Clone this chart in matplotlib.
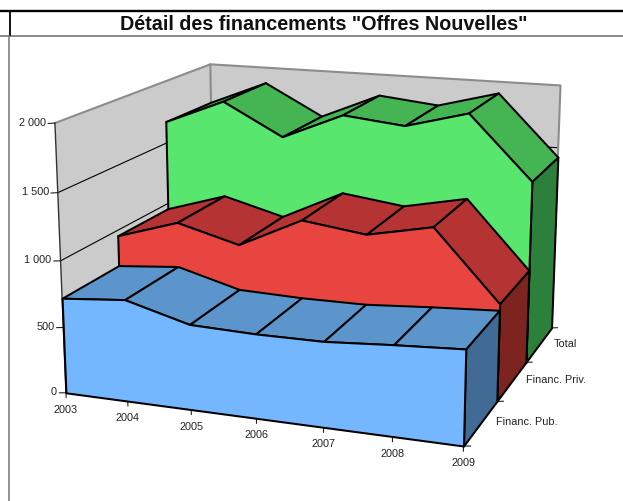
#-*- encoding: utf-8 -*-
import numpy as np
import matplotlib
matplotlib.use('Agg')
import matplotlib.pyplot as plt
from matplotlib.lines import Line2D
from mpl_toolkits.mplot3d import proj3d
from mpl_toolkits.mplot3d.art3d import Poly3DCollection

# donnees =====================================================================
years = ['2003', '2004', '2005', '2006', '2007', '2008', '2009']
series = ['Financ. Pub.', 'Financ. Priv.', 'Total']
pub = [721, 763, 634, 621, 624, 658, 686]
priv = [958, 1107, 981, 1214, 1152, 1253, 734]
total = [1676, 1873, 1623, 1830, 1780, 1910, 1424]
z_ticks = [0, 500, 1000, 1500, 2000]
z_labels = ['0', '500', '1 000', '1 500', '2 000']

# couleurs : face avant, dessus, cote
colors = [('#74B7FF', '#5B95CB', '#416A94'),
          ('#E84540', '#B53332', '#7E2420'),
          ('#58E66E', '#45B553', '#2D803B')]
wall_color = '#CBCBCB'
W, H = 623, 501
# =============================================================================

plt.rcParams['font.family'] = ['Liberation Sans', 'DejaVu Sans']

fig = plt.figure(figsize=(W / 100, H / 100), dpi=100)

# cadre de la page
def page_line(x0, y0, x1, y1, color, lw):
    fig.add_artist(Line2D([x0 / W, x1 / W], [1 - y0 / H, 1 - y1 / H], color=color, lw=lw,
                          solid_capstyle='butt'))

page_line(0, 11, W, 11, 'black', 1.7)
page_line(0, 35.5, W, 35.5, '#777777', 1.2)
page_line(10.2, 11, 10.2, 36, 'black', 1.3)
page_line(8.8, 35, 8.8, H, '#777777', 1.1)
fig.text(324 / W, 1 - 25 / H, 'Détail des financements "Offres Nouvelles"', fontsize=14.25, fontweight='bold',
         ha='center', va='center', color='#111111')

ax = fig.add_axes([25.79 / W, (H - 530.07) / H, 577.73 / W, 577.73 / H], projection='3d', computed_zorder=False)
ax.set_xlim(0, 6)
ax.set_ylim(0, 3)
ax.set_zlim(0, 2000)
ax.set_axis_off()
ax.patch.set_alpha(0)
ax.view_init(elev=14.9303, azim=-70.0837, roll=-0.029)
ax.set_proj_type('persp', focal_length=float(np.exp(-0.6101)))
ax.set_box_aspect((1, 0.9042, 0.6679))

z_order = [1]
def add_poly(verts, color, edge='black', lw=1.45):
    z_order[0] += 1
    poly = Poly3DCollection([verts], facecolors=color, edgecolors=edge, linewidths=lw, zorder=z_order[0])
    poly.set_joinstyle('round')
    ax.add_collection3d(poly, autolim=False)

def add_line(xs, ys, zs, color='black', lw=0.8):
    z_order[0] += 1
    ax.plot(xs, ys, zs, color=color, lw=lw, zorder=z_order[0], solid_capstyle='round')

n = len(years)
last = n - 1
depth = len(series)
z_max = z_ticks[-1]

# murs du fond
add_poly([(0, 0, 0), (0, depth, 0), (0, depth, z_max), (0, 0, z_max)], wall_color, edge='none')
add_poly([(0, depth, 0), (last, depth, 0), (last, depth, z_max), (0, depth, z_max)], wall_color, edge='none')

# quadrillage
for z in z_ticks[1:-1]:
    add_line([0, 0], [0, depth], [z, z])
    add_line([0, last], [depth, depth], [z, z])

add_line([0, 0, last, last], [0, depth, depth, depth], [z_max, z_max, z_max, 0], color='#8C8C8C', lw=1.5)
add_line([0, 0], [depth, depth], [0, z_max], color='#8C8C8C', lw=1.5)
add_line([0, 0], [0, 0], [0, z_max], color='#333333', lw=1.0)

# graduations
for z in z_ticks:
    add_line([0, -0.11], [0, 0], [z, z - 7], color='#222222', lw=0.8)
for i in range(n):
    add_line([i, i], [0, 0], [0, -38], color='#222222', lw=0.8)
for k in range(depth + 1):
    add_line([last, last + 0.1], [k, k], [0, 7], color='#222222', lw=0.8)

# les trois bandes, du fond vers l'avant
for k, values in reversed(list(enumerate([pub, priv, total]))):
    front_c, top_c, side_c = colors[k]
    for i in range(n - 1):
        add_poly([(i, k, values[i]), (i + 1, k, values[i + 1]),
                  (i + 1, k + 1, values[i + 1]), (i, k + 1, values[i])], top_c)
    add_poly([(last, k, 0), (last, k + 1, 0), (last, k + 1, values[-1]), (last, k, values[-1])], side_c)
    outline = [(0, k, 0)] + [(i, k, values[i]) for i in range(n)] + [(last, k, 0)]
    add_poly(outline, front_c)

# textes des graduations
proj = ax.get_proj()
def tick_label(x, y, z, text, dx, dy, ha):
    px, py, _ = proj3d.proj_transform(x, y, z, proj)
    ax.annotate(text, (px, py), xytext=(dx, dy), textcoords='offset pixels', ha=ha, va='center',
                fontsize=7.8, color='#222222', zorder=500)

for z, label in zip(z_ticks, z_labels):
    tick_label(0, 0, z, label, -9, 0.5, 'right')
for i, label in enumerate(years):
    tick_label(i, 0, 0, label, 0, -17, 'center')
y_offsets = [(-1, -21), (0, -18), (2, -16)]
for k, label in enumerate(series):
    tick_label(last, k + 1, 0, label, y_offsets[k][0], y_offsets[k][1], 'left')

plt.savefig('out.png', dpi=100)
